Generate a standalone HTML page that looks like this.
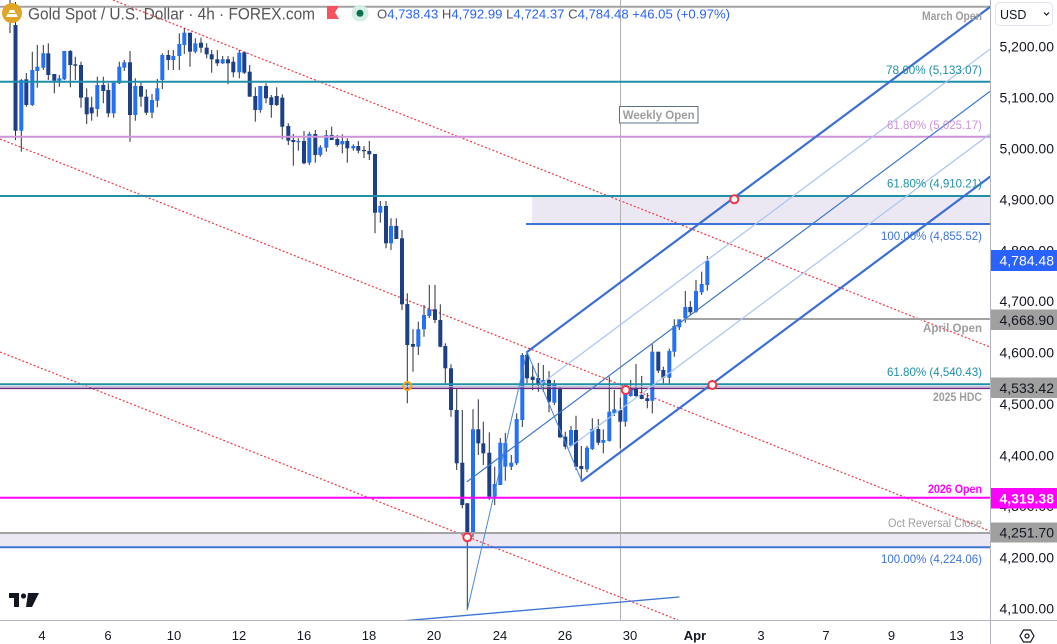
<!DOCTYPE html>
<html><head><meta charset="utf-8"><style>
html,body{margin:0;padding:0;background:#fff;}
svg{display:block;font-family:"Liberation Sans",sans-serif;}
</style></head><body>
<svg width="1057" height="644" viewBox="0 0 1057 644" xmlns="http://www.w3.org/2000/svg">
<rect x="0" y="0" width="1057" height="644" fill="#fff"/>

<!-- shaded bands -->
<rect x="532" y="196" width="458" height="28" fill="#ebe8f3"/>
<rect x="0" y="533" width="990" height="14" fill="#ebe8f3"/>

<!-- red dotted channel -->
<g stroke="#f23645" stroke-width="1.2" stroke-dasharray="2 2" fill="none">
<line x1="113" y1="0" x2="990" y2="347"/>
<line x1="0" y1="139" x2="990" y2="531"/>
<line x1="0" y1="352" x2="678" y2="620"/>
</g>

<!-- weekly open vertical -->
<line x1="620.5" y1="0" x2="620.5" y2="620" stroke="#b2b2b2" stroke-width="1"/>

<!-- candles wicks -->
<g stroke="#2a2e39" stroke-width="1">
<line x1="10" y1="0" x2="10" y2="33"/><line x1="15.5" y1="2" x2="15.5" y2="140"/><line x1="21.3" y1="79" x2="21.3" y2="151.7"/><line x1="26.3" y1="73" x2="26.3" y2="106.7"/><line x1="32.3" y1="51.7" x2="32.3" y2="106"/><line x1="37.3" y1="45" x2="37.3" y2="87.7"/><line x1="43.3" y1="45" x2="43.3" y2="70"/><line x1="48.3" y1="43.3" x2="48.3" y2="80"/><line x1="54.3" y1="74" x2="54.3" y2="93.3"/><line x1="59.3" y1="75" x2="59.3" y2="86.7"/>
<line x1="64.3" y1="51" x2="64.3" y2="80"/><line x1="70.3" y1="50" x2="70.3" y2="87.3"/><line x1="75.3" y1="56.7" x2="75.3" y2="80"/><line x1="81" y1="61.7" x2="81" y2="107.7"/><line x1="86.7" y1="88.3" x2="86.7" y2="124"/><line x1="91.7" y1="96.7" x2="91.7" y2="120.7"/><line x1="97.3" y1="76.7" x2="97.3" y2="116.7"/><line x1="103.3" y1="76.7" x2="103.3" y2="103.3"/><line x1="108.3" y1="83.3" x2="108.3" y2="117.3"/><line x1="113.7" y1="82.7" x2="113.7" y2="117.7"/>
<line x1="119.3" y1="61.7" x2="119.3" y2="84"/><line x1="124.3" y1="60" x2="124.3" y2="71"/><line x1="130" y1="51" x2="130" y2="141.7"/><line x1="135.3" y1="78.3" x2="135.3" y2="120.7"/><line x1="141" y1="81.7" x2="141" y2="106.7"/><line x1="146.3" y1="89.3" x2="146.3" y2="115"/><line x1="152" y1="94" x2="152" y2="118.3"/><line x1="157.3" y1="79" x2="157.3" y2="107.3"/><line x1="162.3" y1="53.3" x2="162.3" y2="89"/><line x1="168.3" y1="50" x2="168.3" y2="70"/>
<line x1="173.3" y1="50" x2="173.3" y2="70"/><line x1="179.3" y1="33.3" x2="179.3" y2="70"/><line x1="184.3" y1="28.3" x2="184.3" y2="54"/><line x1="190" y1="32.7" x2="190" y2="66.7"/><line x1="195.3" y1="38.3" x2="195.3" y2="53.3"/><line x1="201" y1="37.7" x2="201" y2="52.7"/><line x1="206.7" y1="43.3" x2="206.7" y2="58.3"/><line x1="211.7" y1="50" x2="211.7" y2="72.7"/><line x1="217.3" y1="50" x2="217.3" y2="66"/><line x1="222.7" y1="56" x2="222.7" y2="64"/>
<line x1="228" y1="56" x2="228" y2="84.3"/><line x1="233.3" y1="56.7" x2="233.3" y2="77.3"/><line x1="239.3" y1="50" x2="239.3" y2="78.3"/><line x1="244.3" y1="52.3" x2="244.3" y2="74"/><line x1="249.7" y1="65" x2="249.7" y2="96.7"/><line x1="255.3" y1="87.3" x2="255.3" y2="121.7"/><line x1="260.3" y1="86" x2="260.3" y2="112.7"/><line x1="266" y1="83.3" x2="266" y2="103.3"/><line x1="271.3" y1="95" x2="271.3" y2="117.7"/><line x1="276.7" y1="87.3" x2="276.7" y2="106"/>
<line x1="282.3" y1="94.3" x2="282.3" y2="139.3"/><line x1="288.3" y1="123.3" x2="288.3" y2="145"/><line x1="293.3" y1="134" x2="293.3" y2="165.7"/><line x1="298.3" y1="138.3" x2="298.3" y2="150.7"/><line x1="304" y1="131" x2="304" y2="164.3"/><line x1="309.3" y1="131.7" x2="309.3" y2="165"/><line x1="315.3" y1="130" x2="315.3" y2="162.7"/><line x1="320.3" y1="145" x2="320.3" y2="156.7"/><line x1="326.3" y1="130" x2="326.3" y2="151.7"/><line x1="331.7" y1="126.7" x2="331.7" y2="140"/>
<line x1="337.3" y1="135" x2="337.3" y2="146.7"/><line x1="342.3" y1="134.3" x2="342.3" y2="153.3"/><line x1="347.3" y1="138.3" x2="347.3" y2="162.7"/><line x1="353.3" y1="144.3" x2="353.3" y2="150.7"/><line x1="358.3" y1="141" x2="358.3" y2="153.3"/><line x1="364" y1="146" x2="364" y2="158"/><line x1="369.3" y1="141" x2="369.3" y2="160"/><line x1="375" y1="154" x2="375" y2="233.3"/><line x1="380.3" y1="201" x2="380.3" y2="222.7"/><line x1="386" y1="201" x2="386" y2="248.3"/>
<line x1="391" y1="218.3" x2="391" y2="250"/><line x1="396.3" y1="218.3" x2="396.3" y2="239"/><line x1="402" y1="230" x2="402" y2="310"/><line x1="407.3" y1="293.3" x2="407.3" y2="403.3"/><line x1="413" y1="329.3" x2="413" y2="371.7"/><line x1="418.3" y1="321.7" x2="418.3" y2="355"/><line x1="424" y1="305" x2="424" y2="336.7"/><line x1="429.3" y1="285" x2="429.3" y2="318"/><line x1="435" y1="285" x2="435" y2="323"/><line x1="440.3" y1="304.3" x2="440.3" y2="347.3"/>
<line x1="445.3" y1="343.3" x2="445.3" y2="383.3"/><line x1="451" y1="364.3" x2="451" y2="416.7"/><line x1="456.7" y1="388" x2="456.7" y2="470"/><line x1="462.3" y1="410" x2="462.3" y2="508.3"/><line x1="467.3" y1="503" x2="467.3" y2="610"/><line x1="473" y1="409.3" x2="473" y2="536.7"/><line x1="478.3" y1="399.3" x2="478.3" y2="455"/><line x1="483.3" y1="421.7" x2="483.3" y2="465"/><line x1="489.3" y1="432.3" x2="489.3" y2="500"/><line x1="494.7" y1="466.7" x2="494.7" y2="505"/>
<line x1="500.3" y1="438" x2="500.3" y2="485"/><line x1="505.3" y1="433" x2="505.3" y2="480.7"/><line x1="511.3" y1="455" x2="511.3" y2="470"/><line x1="516.7" y1="413.3" x2="516.7" y2="465"/><line x1="522.3" y1="353" x2="522.3" y2="427"/><line x1="527" y1="351.7" x2="527" y2="383.3"/><line x1="532.7" y1="365" x2="532.7" y2="390"/><line x1="538.3" y1="363" x2="538.3" y2="391.7"/><line x1="543.3" y1="365" x2="543.3" y2="391.7"/><line x1="549" y1="371" x2="549" y2="412.3"/>
<line x1="554.3" y1="380" x2="554.3" y2="405"/><line x1="560" y1="386.7" x2="560" y2="438"/><line x1="565.3" y1="431.7" x2="565.3" y2="449.3"/><line x1="571" y1="426" x2="571" y2="446.7"/><line x1="576" y1="415.7" x2="576" y2="470"/><line x1="581.3" y1="446" x2="581.3" y2="481"/><line x1="587" y1="445.7" x2="587" y2="472.3"/><line x1="592.3" y1="418.3" x2="592.3" y2="450"/><line x1="598.3" y1="419" x2="598.3" y2="445"/><line x1="603.3" y1="429.3" x2="603.3" y2="453.3"/>
<line x1="609.3" y1="376.7" x2="609.3" y2="441.7"/><line x1="614.3" y1="390" x2="614.3" y2="416"/><line x1="620.3" y1="397.7" x2="620.3" y2="448.3"/><line x1="625.3" y1="386.7" x2="625.3" y2="426.7"/><line x1="630.7" y1="380" x2="630.7" y2="396.7"/><line x1="636" y1="364" x2="636" y2="396.7"/><line x1="641.7" y1="376" x2="641.7" y2="399.3"/><line x1="647.3" y1="393" x2="647.3" y2="408.3"/><line x1="652.3" y1="344.3" x2="652.3" y2="413.3"/><line x1="658.3" y1="351.7" x2="658.3" y2="373"/>
<line x1="663.3" y1="366.7" x2="663.3" y2="383.3"/><line x1="669.3" y1="348.7" x2="669.3" y2="383.3"/><line x1="674.3" y1="319.3" x2="674.3" y2="356.7"/><line x1="679.3" y1="319.3" x2="679.3" y2="330"/><line x1="685.3" y1="291" x2="685.3" y2="322.7"/><line x1="690.3" y1="301" x2="690.3" y2="315"/><line x1="696" y1="280" x2="696" y2="312.7"/><line x1="701.7" y1="271.7" x2="701.7" y2="295"/><line x1="707.3" y1="256" x2="707.3" y2="290.7"/>
</g>

<!-- bear bodies -->
<g fill="#1d3f86">
<rect x="8" y="8" width="4" height="14"/><rect x="13.5" y="25" width="4" height="105.7"/><rect x="24.3" y="79.3" width="4" height="25.7"/><rect x="46.3" y="53.3" width="4" height="21.7"/><rect x="52.3" y="74" width="4" height="6.7"/><rect x="68.3" y="51" width="4" height="14"/><rect x="73.3" y="64.3" width="4" height="1.4"/><rect x="79" y="65" width="4" height="32.7"/><rect x="84.7" y="97.3" width="4" height="17"/><rect x="89.7" y="107.3" width="4" height="6"/>
<rect x="101.3" y="85" width="4" height="6"/><rect x="106.3" y="90" width="4" height="23.3"/><rect x="128" y="62.3" width="4" height="52.7"/><rect x="139" y="86" width="4" height="10.7"/><rect x="144.3" y="96.7" width="4" height="16"/><rect x="166.3" y="55" width="4" height="5"/><rect x="188" y="32.7" width="4" height="19"/><rect x="199" y="42.7" width="4" height="5"/><rect x="204.7" y="47.7" width="4" height="6.6"/><rect x="209.7" y="54.3" width="4" height="5"/>
<rect x="215.3" y="59.3" width="4" height="4"/><rect x="226" y="59.3" width="4" height="4"/><rect x="231.3" y="61.7" width="4" height="10.6"/><rect x="242.3" y="52.3" width="4" height="20.4"/><rect x="247.7" y="71.7" width="4" height="25"/><rect x="253.3" y="96" width="4" height="14"/><rect x="264" y="86" width="4" height="12.3"/><rect x="269.3" y="97.3" width="4" height="7.7"/><rect x="274.7" y="96" width="4" height="9"/><rect x="280.3" y="97.7" width="4" height="29"/>
<rect x="286.3" y="126" width="4" height="14.7"/><rect x="291.3" y="140" width="4" height="2"/><rect x="302" y="141" width="4" height="22.3"/><rect x="313.3" y="134" width="4" height="21"/><rect x="329.7" y="135" width="4" height="5"/><rect x="335.3" y="139" width="4" height="6"/><rect x="345.3" y="141" width="4" height="7.3"/><rect x="356.3" y="146" width="4" height="4.7"/><rect x="362" y="150" width="4" height="1.2"/><rect x="367.3" y="151" width="4" height="3.3"/>
<rect x="373" y="154" width="4" height="58.7"/><rect x="384" y="206" width="4" height="37.3"/><rect x="394.3" y="226" width="4" height="13"/><rect x="400" y="238.3" width="4" height="66"/><rect x="405.3" y="304" width="4" height="41"/><rect x="411" y="344" width="4" height="2.7"/><rect x="433" y="309.3" width="4" height="10.7"/><rect x="438.3" y="320" width="4" height="26.7"/><rect x="443.3" y="346" width="4" height="22.3"/><rect x="449" y="368.3" width="4" height="41.7"/>
<rect x="454.7" y="410" width="4" height="53.3"/><rect x="460.3" y="462.7" width="4" height="42.3"/><rect x="465.3" y="503.3" width="4" height="30"/><rect x="476.3" y="429.3" width="4" height="14"/><rect x="481.3" y="443.3" width="4" height="10"/><rect x="487.3" y="452.7" width="4" height="44"/><rect x="525" y="355" width="4" height="23.3"/><rect x="530.7" y="376.7" width="4" height="3.3"/><rect x="536.3" y="378" width="4" height="7"/><rect x="547" y="380" width="4" height="21.7"/>
<rect x="558" y="388.3" width="4" height="49"/><rect x="563.3" y="436.7" width="4" height="10"/><rect x="574" y="430" width="4" height="36.7"/><rect x="579.3" y="466" width="4" height="3"/><rect x="596.3" y="429" width="4" height="13.7"/><rect x="618.3" y="410" width="4" height="11.7"/><rect x="634" y="388.3" width="4" height="7.7"/><rect x="639.7" y="395" width="4" height="4"/><rect x="645.3" y="398.3" width="4" height="2.7"/><rect x="656.3" y="351.7" width="4" height="19"/>
<rect x="661.3" y="370" width="4" height="7.7"/><rect x="688.3" y="307" width="4" height="5.3"/>
</g>

<!-- bull bodies -->
<g fill="#2471f5">
<rect x="19.3" y="80" width="4" height="50.7"/><rect x="30.3" y="70" width="4" height="35"/><rect x="35.3" y="66.7" width="4" height="4.3"/><rect x="41.3" y="53.3" width="4" height="14.4"/><rect x="57.3" y="78.3" width="4" height="2.4"/><rect x="62.3" y="51" width="4" height="28.3"/><rect x="95.3" y="85" width="4" height="24"/><rect x="111.7" y="82.7" width="4" height="30.6"/><rect x="117.3" y="66.7" width="4" height="16.6"/><rect x="122.3" y="62.3" width="4" height="5.4"/>
<rect x="133.3" y="86" width="4" height="29"/><rect x="150" y="100" width="4" height="12.7"/><rect x="155.3" y="88.3" width="4" height="12.4"/><rect x="160.3" y="55" width="4" height="25"/><rect x="171.3" y="56" width="4" height="4"/><rect x="177.3" y="44" width="4" height="12"/><rect x="182.3" y="32.7" width="4" height="12.3"/><rect x="193.3" y="43.3" width="4" height="8.4"/><rect x="220.7" y="59.3" width="4" height="4"/><rect x="237.3" y="52.7" width="4" height="19.6"/>
<rect x="258.3" y="86" width="4" height="24"/><rect x="296.3" y="141" width="4" height="1.2"/><rect x="307.3" y="134" width="4" height="28.7"/><rect x="318.3" y="147.3" width="4" height="7.7"/><rect x="324.3" y="135" width="4" height="12.7"/><rect x="340.3" y="141" width="4" height="3.3"/><rect x="351.3" y="146" width="4" height="2.3"/><rect x="378.3" y="206" width="4" height="6.7"/><rect x="389" y="226" width="4" height="17.3"/><rect x="416.3" y="329.3" width="4" height="17.4"/>
<rect x="422" y="315" width="4" height="14.3"/><rect x="427.3" y="309.3" width="4" height="6.7"/><rect x="471" y="429.3" width="4" height="104"/><rect x="492.7" y="484" width="4" height="12.7"/><rect x="498.3" y="442.7" width="4" height="42.3"/><rect x="503.3" y="443" width="4" height="23.7"/><rect x="509.3" y="462.7" width="4" height="4"/><rect x="514.7" y="419" width="4" height="44.3"/><rect x="520.3" y="355" width="4" height="65"/><rect x="541.3" y="380" width="4" height="3.3"/>
<rect x="552.3" y="383.3" width="4" height="19.4"/><rect x="569" y="430" width="4" height="15.7"/><rect x="585" y="447.7" width="4" height="21.6"/><rect x="590.3" y="429" width="4" height="20"/><rect x="601.3" y="440" width="4" height="2.7"/><rect x="607.3" y="411.7" width="4" height="29.3"/><rect x="612.3" y="409.3" width="4" height="4"/><rect x="623.3" y="391.7" width="4" height="30"/><rect x="628.7" y="388" width="4" height="8"/><rect x="650.3" y="351.7" width="4" height="49"/>
<rect x="667.3" y="351" width="4" height="26.7"/><rect x="672.3" y="326" width="4" height="25.7"/><rect x="677.3" y="319.3" width="4" height="8"/><rect x="683.3" y="307" width="4" height="11.3"/><rect x="694" y="291" width="4" height="20.7"/><rect x="699.7" y="284" width="4" height="8.3"/><rect x="705.3" y="260.7" width="4" height="24.3"/>
</g>

<!-- horizontal levels -->
<line x1="0" y1="6.7" x2="990" y2="6.7" stroke="#a3a3a3" stroke-width="2"/>
<line x1="0" y1="81.7" x2="990" y2="81.7" stroke="#1e90a8" stroke-width="2"/>
<line x1="0" y1="136.7" x2="990" y2="136.7" stroke="#ce93d8" stroke-width="2"/>
<line x1="0" y1="196" x2="990" y2="196" stroke="#1e90a8" stroke-width="2"/>
<line x1="526" y1="224" x2="990" y2="224" stroke="#3d74d6" stroke-width="2"/>
<line x1="684" y1="319" x2="990" y2="319" stroke="#a3a3a3" stroke-width="2"/>
<line x1="0" y1="384.3" x2="990" y2="384.3" stroke="#1e90a8" stroke-width="2"/>
<line x1="0" y1="386.6" x2="990" y2="386.6" stroke="#c9b5d6" stroke-width="1"/>
<line x1="0" y1="388.4" x2="990" y2="388.4" stroke="#6a2c7a" stroke-width="1.5"/>
<line x1="0" y1="497.7" x2="990" y2="497.7" stroke="#ff00ff" stroke-width="2"/>
<line x1="0" y1="533" x2="990" y2="533" stroke="#a3a3a3" stroke-width="2"/>
<line x1="0" y1="547.3" x2="990" y2="547.3" stroke="#3d74d6" stroke-width="2"/>

<!-- pitchfork -->
<g fill="none" stroke-linecap="round">
<line x1="527" y1="352" x2="990" y2="7" stroke="#3a6fd6" stroke-width="2.2"/>
<line x1="581.7" y1="481" x2="990" y2="176.8" stroke="#3a6fd6" stroke-width="2.2"/>
<line x1="467.3" y1="481.5" x2="990" y2="91.4" stroke="#3f77cc" stroke-width="1.2"/>
<line x1="540.7" y1="384.2" x2="990" y2="49.2" stroke="#a9c5f5" stroke-width="1.2"/>
<line x1="568" y1="448.5" x2="990" y2="134" stroke="#a9c5f5" stroke-width="1.2"/>
<line x1="467.3" y1="610" x2="527" y2="352" stroke="#4a8ad4" stroke-width="1"/>
<line x1="527" y1="352" x2="581.7" y2="481" stroke="#4a8ad4" stroke-width="1"/>
<line x1="405" y1="620.7" x2="679" y2="597" stroke="#3d74d6" stroke-width="1.3"/>
</g>

<!-- circles -->
<g fill="#fff" stroke="#f23645" stroke-width="2">
<circle cx="467.3" cy="537.3" r="4"/>
<circle cx="625.7" cy="390" r="4"/>
<circle cx="712.3" cy="385" r="4"/>
<circle cx="734.3" cy="199.3" r="4"/>
</g>
<circle cx="407.3" cy="386" r="4" fill="none" stroke="#f7a21b" stroke-width="2"/>

<!-- weekly open label -->
<rect x="619.5" y="106.5" width="78.5" height="16.5" fill="#fff" stroke="#5d7080" stroke-width="1"/>
<text x="658.7" y="119" font-size="12" font-weight="bold" fill="#9e9e9e" text-anchor="middle" textLength="72" lengthAdjust="spacingAndGlyphs">Weekly Open</text>

<!-- level labels -->
<g font-size="12" text-anchor="end">
<text x="982" y="20" fill="#9e9e9e" font-weight="bold" textLength="60" lengthAdjust="spacingAndGlyphs">March Open</text>
<text x="982" y="74" fill="#1e90a8" textLength="96" lengthAdjust="spacingAndGlyphs">78.60% (5,133.07)</text>
<text x="982" y="129" fill="#ce93d8" textLength="95" lengthAdjust="spacingAndGlyphs">61.80% (5,025.17)</text>
<text x="982" y="187.5" fill="#1e90a8" textLength="95" lengthAdjust="spacingAndGlyphs">61.80% (4,910.21)</text>
<text x="982" y="240" fill="#3d74d6" textLength="101" lengthAdjust="spacingAndGlyphs">100.00% (4,855.52)</text>
<text x="982" y="332" fill="#9e9e9e" font-weight="bold" textLength="59" lengthAdjust="spacingAndGlyphs">April Open</text>
<text x="982" y="376" fill="#1e90a8" textLength="95" lengthAdjust="spacingAndGlyphs">61.80% (4,540.43)</text>
<text x="982" y="401" fill="#9e9e9e" font-weight="bold" textLength="49" lengthAdjust="spacingAndGlyphs">2025 HDC</text>
<text x="982" y="493" fill="#ff00ff" font-weight="bold" textLength="54" lengthAdjust="spacingAndGlyphs">2026 Open</text>
<text x="982" y="527" fill="#9e9e9e" textLength="94" lengthAdjust="spacingAndGlyphs">Oct Reversal Close</text>
<text x="982" y="563" fill="#3d74d6" textLength="101" lengthAdjust="spacingAndGlyphs">100.00% (4,224.06)</text>
</g>

<!-- header -->
<circle cx="12" cy="13" r="10" fill="#e0a526"/>
<path d="M6 17 h12 l-1.5 -3 h-9 z M8.5 13 h7 l-1.3 -3 h-4.4 z" fill="#fff"/>
<text x="28" y="19.3" font-size="16.5" fill="#555" textLength="287" lengthAdjust="spacingAndGlyphs">Gold Spot / U.S. Dollar · 4h · FOREX.com</text>
<path d="M327 6 h12 l-4 6.5 l4 6.5 h-12 z" fill="#f7525f"/>
<circle cx="360" cy="13.3" r="8.5" fill="#d5eee6"/>
<circle cx="360" cy="13.3" r="3.5" fill="#0b6e4f"/>
<text x="377" y="18.3" font-size="13" fill="#2962ff" textLength="353" lengthAdjust="spacingAndGlyphs"><tspan fill="#555">O</tspan>4,738.43 <tspan fill="#555">H</tspan>4,792.99 <tspan fill="#555">L</tspan>4,724.37 <tspan fill="#555">C</tspan>4,784.48 +46.05 (+0.97%)</text>

<!-- TV logo -->
<g fill="#131722">
<path d="M9 593 h10 v14 h-5 v-9 h-5 z"/>
<circle cx="23.5" cy="596" r="2.6"/>
<path d="M28 593 h11 l-7 14 h-6 z"/>
</g>

<!-- axes -->
<rect x="990.5" y="0" width="66.5" height="644" fill="#fff"/>
<rect x="0" y="620.5" width="990" height="23.5" fill="#fff"/>
<line x1="990.5" y1="0" x2="990.5" y2="644" stroke="#b2b5be" stroke-width="1"/>
<line x1="0" y1="620.5" x2="1057" y2="620.5" stroke="#b2b5be" stroke-width="1"/>

<rect x="995.5" y="2.5" width="57" height="23" rx="4" fill="#fff" stroke="#e0e3eb"/>
<text x="1000" y="19" font-size="12.5" fill="#131722">USD</text>
<path d="M1044 12.5 l2.5 2.5 l2.5 -2.5" fill="none" stroke="#131722" stroke-width="1.2"/>

<g font-size="14" fill="#131722" text-anchor="end">
<text x="1054" y="51.5">5,200.00</text>
<text x="1054" y="102.5">5,100.00</text>
<text x="1054" y="153.6">5,000.00</text>
<text x="1054" y="204.7">4,900.00</text>
<text x="1054" y="255.7">4,800.00</text>
<text x="1054" y="306">4,700.00</text>
<text x="1054" y="357.7">4,600.00</text>
<text x="1054" y="409">4,500.00</text>
<text x="1054" y="460.5">4,400.00</text>
<text x="1054" y="511">4,300.00</text>
<text x="1054" y="562.6">4,200.00</text>
<text x="1054" y="613.6">4,100.00</text>
</g>

<rect x="991" y="250" width="66" height="21" fill="#2962ff"/>
<rect x="991" y="309.5" width="66" height="20.5" fill="#a0a0a0"/>
<rect x="991" y="377.5" width="66" height="20.5" fill="#a0a0a0"/>
<rect x="991" y="488" width="66" height="20.5" fill="#ff00ff"/>
<rect x="991" y="522.5" width="66" height="20" fill="#a0a0a0"/>
<g font-size="14" text-anchor="end">
<text x="1054" y="265.5" fill="#fff">4,784.48</text>
<text x="1054" y="324.8" fill="#131722">4,668.90</text>
<text x="1054" y="392.8" fill="#131722">4,533.42</text>
<text x="1054" y="503.3" fill="#fff" font-weight="bold">4,319.38</text>
<text x="1054" y="537.5" fill="#131722">4,251.70</text>
</g>

<g font-size="13" fill="#131722" text-anchor="middle">
<text x="42" y="640">4</text>
<text x="108" y="640">6</text>
<text x="174" y="640">10</text>
<text x="239" y="640">12</text>
<text x="304" y="640">16</text>
<text x="369" y="640">18</text>
<text x="434" y="640">20</text>
<text x="500" y="640">24</text>
<text x="565" y="640">26</text>
<text x="630" y="640">30</text>
<text x="695" y="640" font-weight="bold">Apr</text>
<text x="761" y="640">3</text>
<text x="826" y="640">7</text>
<text x="891.5" y="640">9</text>
<text x="956.5" y="640">13</text>
</g>

<polygon points="1020,636 1023.5,630 1030.5,630 1034,636 1030.5,642 1023.5,642" fill="none" stroke="#131722" stroke-width="1.2"/>
<circle cx="1027" cy="636" r="2" fill="none" stroke="#131722" stroke-width="1.2"/>
</svg>
</body></html>
